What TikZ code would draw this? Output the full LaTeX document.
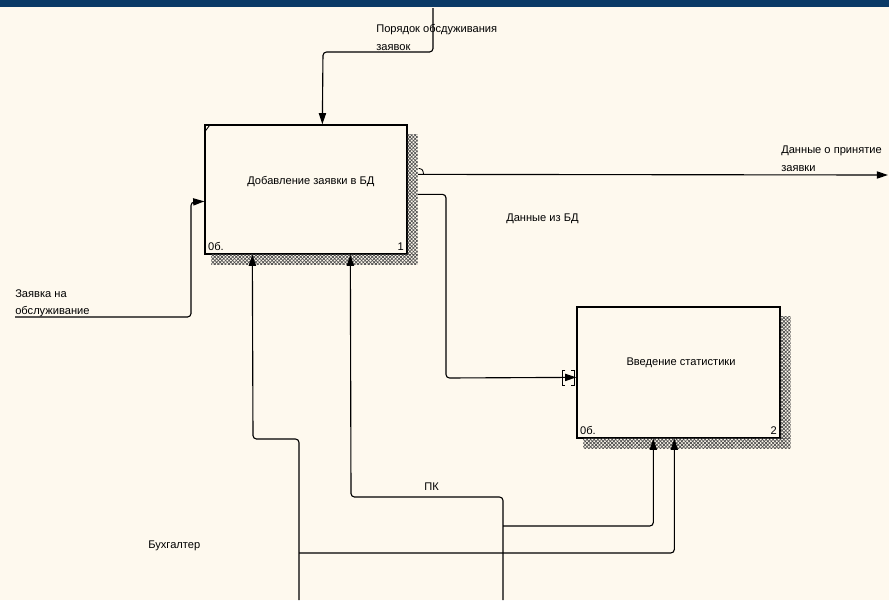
\documentclass[tikz,border=0pt]{standalone}
\usepackage{fontspec}
\setmainfont{Liberation Sans}
\usepackage{tikz}
\usetikzlibrary{arrows.meta, calc, patterns.meta, positioning}
\definecolor{paper}{HTML}{FEF9EE}
\definecolor{band}{HTML}{0B3A66}

\begin{document}
\begin{tikzpicture}[x=0.025cm, y=-0.025cm,
    font=\fontsize{7.9}{12.5}\selectfont,
    func/.style={draw, line width=0.9pt, fill=paper, inner sep=0pt},
    shade/.style={fill=paper,
                  postaction={pattern={Lines[angle=45, distance=1.8pt, line width=0.5pt]}, pattern color=black!70},
                  postaction={pattern={Lines[angle=-45, distance=1.8pt, line width=0.5pt]}, pattern color=black!70}},
    arr/.style={-{Triangle[length=2.8mm, width=1.8mm]}, line width=0.8pt, rounded corners=2.5pt},
    lbl/.style={align=left, anchor=north west, inner sep=0pt},
    tick/.style={line width=0.6pt},
]
    \fill[paper] (0,0) rectangle (889,600);
    \fill[band] (0,0) rectangle (889,7);

    \node[func, minimum width=5.05cm, minimum height=3.225cm,
          label={[name=t1, xshift=3.5pt, yshift=6pt]center:Добавление заявки в БД},
          label={[anchor=south west, inner sep=2.5pt]south west:0б.},
          label={[anchor=south east, inner sep=2.5pt]south east:1}] (b1) at (306,189.5) {};
    \node[func, minimum width=5.075cm, minimum height=3.275cm,
          label={[name=t2, xshift=1.8pt, yshift=6.7pt]center:Введение статистики},
          label={[anchor=south west, inner sep=2.5pt]south west:0б.},
          label={[anchor=south east, inner sep=2.5pt]south east:2}] (b2) at (678.5,372.5) {};

    \coordinate (b1ctl) at ($(b1.north west)+(118,0)$);
    \coordinate (b1in) at ($(b1.north west)+(0,77)$);
    \coordinate (b1o1) at ($(b1.north east)+(0,50)$);
    \coordinate (b1o2) at ($(b1.north east)+(0,70)$);
    \coordinate (b1m1) at ($(b1.south west)+(48,0)$);
    \coordinate (b1m2) at ($(b1.south west)+(146,0)$);
    \coordinate (b2in) at ($(b2.north west)+(0,71)$);
    \coordinate (b2m1) at ($(b2.south west)+(77,0)$);
    \coordinate (b2m2) at ($(b2.south west)+(98,0)$);
    \coordinate (ctlsrc) at (433,8);
    \coordinate (insrc) at (15,317);
    \coordinate (outdst) at (888,175);
    \coordinate (accsrc) at (299,600);
    \coordinate (accj) at (299,553);
    \coordinate (pcsrc) at (503,600);
    \coordinate (pcj) at (503,526);

    \draw[arr] (b1o1) -- (outdst);
    \draw[arr] (b1o2) -| (446,378) -- (b2in);

    \fill[shade] ($(b1.north east)+(0,10)$) rectangle ($(b1.south east)+(10,10)$);
    \fill[shade] ($(b1.south west)+(7,0)$) rectangle ($(b1.south east)+(10,10)$);
    \fill[shade] ($(b2.north east)+(0,10)$) rectangle ($(b2.south east)+(10,10)$);
    \fill[shade] ($(b2.south west)+(7,0)$) rectangle ($(b2.south east)+(10,10)$);

    \draw[tick] ($(b1o1)+(11,-6)$) .. controls ($(b1o1)+(15,-5)$) .. ($(b1o1)+(16,0)$);
    \draw[tick] ($(b1.north west)+(0,8)$) -- ++(6,-8);
    \draw[tick] ($(b2in)+(-11,-7)$) -- ++(-3,0) -- ++(0,15) -- ++(3,0);
    \draw[tick] ($(b2in)+(-5,-7)$) -- ++(3,0) -- ++(0,15) -- ++(-3,0);

    \draw[arr] (ctlsrc) |- (323,52) -- (b1ctl);
    \draw[arr] (insrc) -| (191,202) -- (b1in);
    \draw[arr] (accsrc) |- (253,439) -- (b1m1);
    \draw[arr] (accj) -| (b2m2);
    \draw[arr] (pcsrc) |- (351,497) -- (b1m2);
    \draw[arr] (pcj) -| (b2m1);

    \node[lbl] (ctllbl) at (376,24) {Порядок обсдуживания\\заявок};
    \node[lbl] (outlbl) at (781,146) {Данные о принятие\\заявки};
    \node[lbl] (o2lbl) at (506,214) {Данные из БД};
    \node[lbl] (inlbl) at (15,289) {Заявка на\\обслуживание};
    \node[lbl] (pclbl) at (424,483) {ПК};
    \node[lbl] (acclbl) at (148,541) {Бухгалтер};
\end{tikzpicture}
\end{document}
